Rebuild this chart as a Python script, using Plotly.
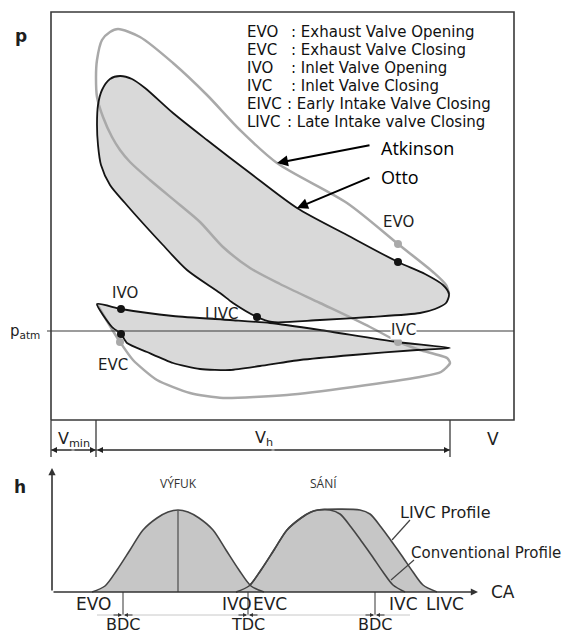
import plotly.graph_objects as go

# ================= DATA =================
# --- p-V diagram (V, p in diagram units, origin = lower-left corner of the box) ---
otto_hp_V = [206, 182, 169, 136, 111, 89, 74, 59, 50, 47, 46, 47, 51, 59, 69, 81, 94, 122, 156, 199, 246, 296, 347, 374, 392, 398, 395, 384, 369, 319, 269, 221]
otto_hp_p = [103, 117, 127, 150, 176, 200, 217, 235, 255, 275, 295, 315, 330, 341, 344, 341, 332, 307, 280, 247, 212, 185, 158, 146, 135, 126, 117, 111, 107, 103, 100, 98]

otto_pump_V = [46, 70, 122, 179, 219, 269, 346, 399, 366, 302, 249, 209, 179, 149, 122, 96, 76, 70, 61, 46]
otto_pump_p = [116, 111, 104, 100, 97, 90, 78, 72, 70, 65, 60, 54, 50, 51, 57, 68, 77, 86, 93, 116]

atk_hp_V = [347, 319, 269, 229, 199, 172, 149, 129, 99, 79, 69, 61, 52, 46, 45, 46, 51, 59, 67, 89, 122, 156, 189, 226, 296, 347, 382, 395, 398]
atk_hp_p = [78, 93, 117, 136, 152, 173, 198, 215, 240, 258, 270, 283, 303, 323, 343, 360, 380, 388, 391, 383, 357, 325, 290, 257, 217, 176, 148, 135, 126]

atk_pump_V = [46, 59, 69, 82, 106, 139, 172, 236, 302, 369, 390, 399, 396, 369, 347]
atk_pump_p = [116, 94, 78, 60, 40, 27, 22, 25, 33, 43, 48, 57, 62, 70, 78]

otto_pts_V = [347, 206, 70, 70]
otto_pts_p = [158, 103, 111, 86]
atk_pts_V = [347, 347, 69]
atk_pts_p = [176, 78, 78]

p_atm = 89
V_box = 463
p_box = 408
V_min = 45
V_end = 399

pv_labels = ["EVO", "IVO", "LIVC", "EVC", "IVC"]
pv_label_V = [347, 74, 171, 62, 352]
pv_label_p = [198, 127, 106, 55, 90]

legend_abbr = ["EVO", "EVC", "IVO", "IVC", "EIVC", "LIVC"]
legend_desc = ["Exhaust Valve Opening", "Exhaust Valve Closing", "Inlet Valve Opening",
               "Inlet Valve Closing", "Early Intake Valve Closing", "Late Intake valve Closing"]

# --- valve lift diagram (CA, h in diagram units) ---
exh_CA = [40, 53, 65, 78, 91, 105, 116, 126, 136, 147, 161, 174, 187, 199, 212]
exh_h = [0, 6, 22, 42, 62, 74, 80, 82, 80, 74, 62, 42, 22, 6, 0]

conv_CA = [184, 197, 209, 222, 235, 249, 259, 266, 278, 288, 299, 310, 320, 331, 341, 353]
conv_h = [0, 6, 22, 42, 62, 74, 80, 82, 82, 78, 65, 50, 36, 20, 7, 0]

livc_CA = [184, 197, 209, 222, 235, 249, 259, 266, 308, 318, 329, 340, 350, 361, 371, 385]
livc_h = [0, 6, 22, 42, 62, 74, 80, 82, 82, 78, 65, 50, 36, 20, 7, 0]

ca_event_labels = ["EVO", "IVO", "EVC", "IVC", "LIVC"]
ca_event_pos = [41, 185, 218, 351, 393]
dead_centres = ["BDC", "TDC", "BDC"]
dead_centre_pos = [71, 196, 323]

# ================= FIGURE =================
fig = go.Figure()
BLACK = "#141414"
GRAY = "#a9a9a9"
FILL = "#d9d9d9"
T = dict(xaxis="x", yaxis="y")
B = dict(xaxis="x2", yaxis="y2")

# fills of the Otto loop
fig.add_trace(go.Scatter(x=otto_hp_V, y=otto_hp_p, mode="lines", fill="toself", fillcolor=FILL,
                         line=dict(width=0, shape="spline", smoothing=0.8), hoverinfo="skip", **T))
fig.add_trace(go.Scatter(x=otto_pump_V, y=otto_pump_p, mode="lines", fill="toself", fillcolor=FILL,
                         line=dict(width=0, shape="spline", smoothing=0.6), hoverinfo="skip", **T))
# Atkinson (gray) curves
fig.add_trace(go.Scatter(x=atk_hp_V, y=atk_hp_p, mode="lines",
                         line=dict(color=GRAY, width=2.5, shape="spline", smoothing=0.8), **T))
fig.add_trace(go.Scatter(x=atk_pump_V, y=atk_pump_p, mode="lines",
                         line=dict(color=GRAY, width=2.5, shape="spline", smoothing=0.6), **T))
# Otto outlines
fig.add_trace(go.Scatter(x=otto_hp_V + otto_hp_V[:1], y=otto_hp_p + otto_hp_p[:1], mode="lines",
                         line=dict(color=BLACK, width=1.8, shape="spline", smoothing=0.8), **T))
fig.add_trace(go.Scatter(x=otto_pump_V, y=otto_pump_p, mode="lines",
                         line=dict(color=BLACK, width=1.8, shape="spline", smoothing=0.6), **T))
# box and p_atm
fig.add_trace(go.Scatter(x=[0, V_box, V_box, 0, 0], y=[0, 0, p_box, p_box, 0], mode="lines",
                         line=dict(color="#3a3a3a", width=1.6), **T))
fig.add_trace(go.Scatter(x=[-4, V_box], y=[p_atm, p_atm], mode="lines",
                         line=dict(color="#3a3a3a", width=1.2), **T))
# volume dimension lines
for v in [0, V_min, V_end]:
    fig.add_trace(go.Scatter(x=[v, v], y=[0, -37], mode="lines",
                             line=dict(color="#3a3a3a", width=1.3), **T))
fig.add_trace(go.Scatter(x=[0, V_end], y=[-30, -30], mode="lines",
                         line=dict(color="#3a3a3a", width=1.2), **T))
# points
fig.add_trace(go.Scatter(x=atk_pts_V, y=atk_pts_p, mode="markers",
                         marker=dict(color=GRAY, size=8), **T))
fig.add_trace(go.Scatter(x=otto_pts_V, y=otto_pts_p, mode="markers",
                         marker=dict(color=BLACK, size=8), **T))

# --- lift diagram ---
fig.add_trace(go.Scatter(x=livc_CA, y=livc_h, mode="lines", fill="toself", fillcolor="#c6c6c6",
                         line=dict(color="#444", width=1.6, shape="spline", smoothing=0.8), **B))
fig.add_trace(go.Scatter(x=exh_CA, y=exh_h, mode="lines", fill="toself", fillcolor="#c6c6c6",
                         line=dict(color="#444", width=1.6, shape="spline", smoothing=0.8), **B))
fig.add_trace(go.Scatter(x=conv_CA, y=conv_h, mode="lines",
                         line=dict(color="#444", width=1.6, shape="spline", smoothing=0.8), **B))
fig.add_trace(go.Scatter(x=[exh_CA[7], exh_CA[7]], y=[0, exh_h[7]], mode="lines",
                         line=dict(color="#555", width=1.3), **B))
for c in dead_centre_pos:
    fig.add_trace(go.Scatter(x=[c, c], y=[0, -23], mode="lines",
                             line=dict(color="#555", width=1.2), **B))
fig.add_trace(go.Scatter(x=[45, 358], y=[-23, -23], mode="lines",
                         line=dict(color="#c8c8c8", width=1), **B))
fig.add_trace(go.Scatter(x=[358, 340], y=[72, 52], mode="lines", line=dict(color="#444", width=1.2), **B))
fig.add_trace(go.Scatter(x=[362, 339], y=[32, 12], mode="lines", line=dict(color="#444", width=1.2), **B))

ann = []
HELV = "DejaVu Sans"
def txt(x, y, s, size=15, ref="", anchor="center", family=HELV, color="#1e1e1e", **kw):
    ann.append(dict(x=x, y=y, xref="x" + ref, yref="y" + ref, text=s, showarrow=False,
                    xanchor=anchor, yanchor="middle", font=dict(family=family, size=size, color=color), **kw))

def arrow(x, y, ax, ay, ref="", width=1.2, size=1.0, head=2, color="#222"):
    ann.append(dict(x=x, y=y, ax=ax, ay=ay, xref="x" + ref, yref="y" + ref, axref="x" + ref, ayref="y" + ref,
                    text="", showarrow=True, arrowhead=head, arrowsize=size, arrowwidth=width,
                    arrowcolor=color, standoff=0, startstandoff=0, font=dict(size=10)))

# legend
for i, (a, d) in enumerate(zip(legend_abbr, legend_desc)):
    yy = 388 - 18 * i
    txt(194, yy, a, anchor="left", color="#111")
    txt(238 if len(a) == 3 else 234, yy, ": " + d, anchor="left", color="#111")

for s, v, p in zip(pv_labels, pv_label_V, pv_label_p):
    if s == "IVC":
        txt(v, p, s, bgcolor="white", borderpad=0)
    else:
        txt(v, p, s)

txt(-30, 384, "<b>p</b>", size=17)
txt(-9, 89, "p<sub>atm</sub>", size=15, anchor="right")
txt(23, -19, "V<sub>min</sub>", size=16)
txt(213, -18, "V<sub>h</sub>", size=16)
txt(442, -19, "V", size=17)

# Atkinson / Otto
txt(328, 272, "Atkinson", size=18, anchor="left", family="Open Sans", color="#000")
txt(328, 243, "Otto", size=18, anchor="left", family="Open Sans", color="#000")
arrow(226, 257, 320, 275, width=2, size=1.1, color="#000")
arrow(246, 212, 320, 243, width=2, size=1.1, color="#000")

# dimension arrows
arrow(0, -30, 22, -30, width=1, size=1.2)
arrow(V_min, -30, 22, -30, width=1, size=1.2)
arrow(V_min + 1, -30, 222, -30, width=1, size=1.2)
arrow(V_end, -30, 222, -30, width=1, size=1.2)

# lift diagram axes and labels
arrow(0, 124, 0, 0, ref="2", width=1.6, size=0.9, color="#333")
arrow(426, 0, 0, 0, ref="2", width=1.6, size=0.9, color="#333")
txt(451, 0, "CA", size=17, ref="2")
txt(-32, 105, "<b>h</b>", size=17, ref="2")
txt(126, 109, "VÝFUK", size=12, ref="2", family="Open Sans", color="#333")
txt(271, 109, "SÁNÍ", size=12, ref="2", family="Open Sans", color="#333")
txt(346, 80, "LIVC Profile", size=16, ref="2", anchor="left")
txt(357, 39, "Conventional Profile", size=15, ref="2", anchor="left")
for s, c in zip(ca_event_labels, ca_event_pos):
    txt(c, -12, s, size=17, ref="2")
for s, c in zip(dead_centres, dead_centre_pos):
    txt(c, -32, s, size=16, ref="2")
    arrow(c - 1, -23, c - 11, -23, ref="2", width=1, size=0.8, color="#333")
    arrow(c + 1, -23, c + 11, -23, ref="2", width=1, size=0.8, color="#333")

ax_off = dict(visible=False, showgrid=False, zeroline=False, fixedrange=True)
fig.update_layout(
    width=562, height=634, margin=dict(l=0, r=0, t=0, b=0),
    paper_bgcolor="white", plot_bgcolor="rgba(0,0,0,0)", showlegend=False,
    xaxis=dict(domain=[0, 1], range=[-51, 511], anchor="y", **ax_off),
    yaxis=dict(domain=[0, 1], range=[-214, 420], anchor="x", **ax_off),
    xaxis2=dict(domain=[0, 1], range=[-52, 510], anchor="y2", **ax_off),
    yaxis2=dict(domain=[0, 1], range=[-42, 592], anchor="x2", **ax_off),
    annotations=ann,
)
fig.write_html("out.html", config={"displayModeBar": False},
               post_script="document.body.style.margin='0px';document.body.style.overflow='hidden';")
